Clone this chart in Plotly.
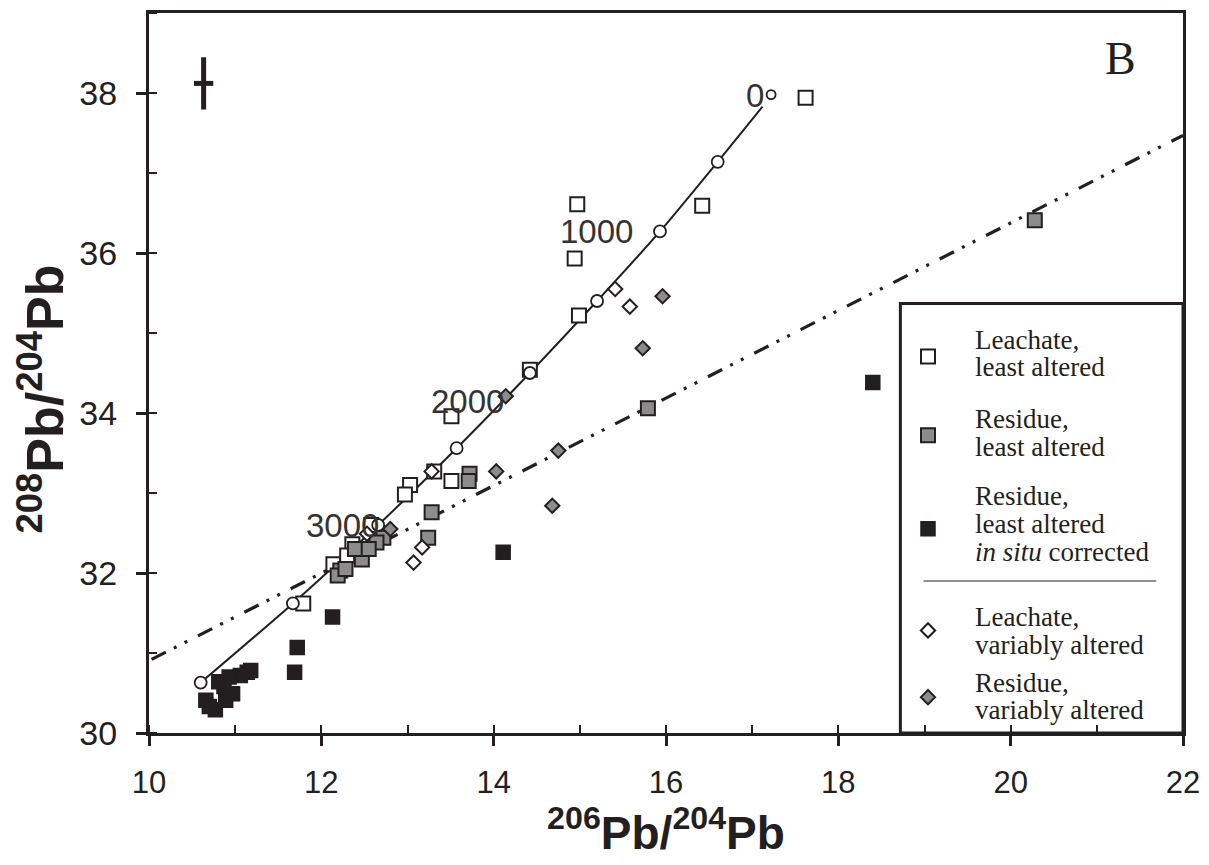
import plotly.graph_objects as go

INK = "#231f20"
GRAY = "#8c8c8c"

# ---- data ----
# Leachate, least altered (open squares)
leach_least_x = [17.62, 16.42, 14.97, 14.94, 14.99, 14.42, 13.51, 13.31, 13.51, 13.03, 12.97, 12.36, 12.58, 12.14, 11.79, 12.30]
leach_least_y = [37.94, 36.59, 36.61, 35.93, 35.22, 34.54, 33.96, 33.27, 33.15, 33.10, 32.98, 32.36, 32.60, 32.11, 31.62, 32.22]

# Residue, least altered (grey squares)
res_least_x = [20.28, 15.79, 13.72, 13.71, 13.28, 13.24, 12.72, 12.64, 12.47, 12.39, 12.22, 12.19, 12.28, 12.55]
res_least_y = [36.41, 34.06, 33.24, 33.15, 32.76, 32.44, 32.44, 32.38, 32.17, 32.30, 32.03, 31.97, 32.05, 32.30]

# Residue, least altered, in situ corrected (black squares)
insitu_x = [18.40, 14.11, 12.13, 11.72, 11.69, 11.18, 11.14, 11.06, 10.93, 10.87, 10.81, 10.97, 10.89, 10.70, 10.66, 10.77]
insitu_y = [34.38, 32.26, 31.45, 31.07, 30.76, 30.78, 30.76, 30.72, 30.70, 30.58, 30.64, 30.49, 30.41, 30.33, 30.41, 30.29]

# Leachate, variably altered (open diamonds)
leach_var_x = [15.41, 15.58, 13.07, 13.17, 13.28, 12.53]
leach_var_y = [35.55, 35.33, 32.13, 32.32, 33.27, 32.49]

# Residue, variably altered (grey diamonds)
res_var_x = [15.96, 15.73, 14.14, 14.75, 14.03, 14.68, 12.80]
res_var_y = [35.46, 34.81, 34.21, 33.53, 33.27, 32.84, 32.55]

# Pb growth curve (solid line) and its age ticks (open circles)
model_x = [10.60, 11.67, 12.66, 13.57, 14.42, 15.20, 15.93, 16.60, 17.12]
model_y = [30.63, 31.62, 32.60, 33.56, 34.50, 35.40, 36.27, 37.14, 37.83]
tick_x = [10.60, 11.67, 12.66, 13.57, 14.42, 15.20, 15.93, 16.60]
tick_y = [30.63, 31.62, 32.60, 33.56, 34.50, 35.40, 36.27, 37.14]
present_x = [17.22]
present_y = [37.98]

# age labels (Ma)
age_text = ["0", "1000", "2000", "3000"]
age_x = [17.03, 15.19, 13.70, 12.25]
age_y = [37.97, 36.27, 34.14, 32.60]

# reference line (dash-dot-dot)
ref_x = [10.03, 22.0]
ref_y = [30.92, 37.47]

# typical 2-sigma error
err_x, err_y = [10.634], [38.12]
err_dx, err_dy = [0.112], [0.326]

# legend text lines
legend_lines = ["Leachate,", "least altered", "Residue,", "least altered", "Residue,", "least altered",
                "<i>in situ</i> corrected", "Leachate,", "variably altered", "Residue,", "variably altered"]
legend_line_y = [34.917, 34.581, 33.921, 33.573, 32.963, 32.614, 32.266, 31.444, 31.095, 30.622, 30.286]

fig = go.Figure()

fig.add_trace(go.Scatter(x=ref_x, y=ref_y, mode="lines", showlegend=False, hoverinfo="skip",
                         line=dict(color=INK, width=3.2, dash="16px,9px,3px,9px,3px,12px")))
fig.add_trace(go.Scatter(x=model_x, y=model_y, mode="lines", showlegend=False, hoverinfo="skip",
                         line=dict(color=INK, width=2, shape="spline", smoothing=0.6)))

sq = 14
fig.add_trace(go.Scatter(x=leach_least_x, y=leach_least_y, mode="markers", name=" ", legend="legend",
                         marker=dict(symbol="square", size=sq, color="white", line=dict(color=INK, width=2))))
fig.add_trace(go.Scatter(x=res_least_x, y=res_least_y, mode="markers", name=" ", legend="legend2",
                         marker=dict(symbol="square", size=sq, color=GRAY, line=dict(color=INK, width=2))))
fig.add_trace(go.Scatter(x=insitu_x, y=insitu_y, mode="markers", name=" ", legend="legend3",
                         marker=dict(symbol="square", size=sq, color=INK, line=dict(color=INK, width=1.5))))
fig.add_trace(go.Scatter(x=leach_var_x, y=leach_var_y, mode="markers", name=" ", legend="legend4",
                         marker=dict(symbol="diamond", size=11, color="white", line=dict(color=INK, width=2))))
fig.add_trace(go.Scatter(x=res_var_x, y=res_var_y, mode="markers", name=" ", legend="legend5",
                         marker=dict(symbol="diamond", size=11, color=GRAY, line=dict(color=INK, width=2))))

fig.add_trace(go.Scatter(x=tick_x, y=tick_y, mode="markers", showlegend=False, hoverinfo="skip",
                         marker=dict(symbol="circle", size=12, color="white", line=dict(color=INK, width=1.8))))
fig.add_trace(go.Scatter(x=present_x, y=present_y, mode="markers", showlegend=False, hoverinfo="skip",
                         marker=dict(symbol="circle", size=9, color="white", line=dict(color=INK, width=1.8))))

fig.add_trace(go.Scatter(x=err_x, y=err_y, mode="markers", showlegend=False, hoverinfo="skip",
                         marker=dict(size=1, color="rgba(0,0,0,0)"),
                         error_x=dict(type="data", array=err_dx, width=0, thickness=5, color=INK),
                         error_y=dict(type="data", array=err_dy, width=0, thickness=5, color=INK)))

# page pixel -> paper helpers (plot area spans page x 149..1183, y 10..733)
PW, PH = 1034, 723
def px_to_paper_x(px):
    return (px - 149) / PW
def px_to_paper_y(py):
    return (733 - py) / PH

annotations = []
for t, x, y in zip(age_text, age_x, age_y):
    annotations.append(dict(x=x, y=y, text=t, showarrow=False, xanchor="center", yanchor="middle",
                            font=dict(family="Liberation Sans", size=33, color="#333333")))
for t, y in zip(legend_lines, legend_line_y):
    annotations.append(dict(x=19.56, y=y, text=t, showarrow=False, xanchor="left", yanchor="middle",
                            font=dict(family="Liberation Serif", size=27, color=INK)))
annotations.append(dict(x=21.27, y=38.43, text="B", showarrow=False, xanchor="center", yanchor="middle",
                        font=dict(family="Liberation Serif", size=46, color=INK)))
# y-axis title (placed as rotated text, slightly below the plot centre as in the reference)
annotations.append(dict(xref="paper", yref="paper", x=px_to_paper_x(42), y=px_to_paper_y(398),
                        text="<b><sup>208</sup>Pb/<sup>204</sup>Pb</b>", textangle=-90, showarrow=False,
                        xanchor="center", yanchor="middle",
                        font=dict(family="Liberation Sans", size=52, color=INK)))

shapes = [
    dict(type="rect", xref="x", yref="y", x0=18.72, x1=22.0, y0=30.0, y1=35.37,
         line=dict(color=INK, width=3), fillcolor="white", layer="below"),
    dict(type="line", xref="x", yref="y", x0=18.99, x1=21.69, y0=31.90, y1=31.90,
         line=dict(color=INK, width=1)),
]

leg_common = dict(xanchor="left", yanchor="middle", bgcolor="rgba(0,0,0,0)", borderwidth=0,
                  font=dict(family="Liberation Serif", size=1, color=INK), itemwidth=30)
marker_py = [355, 434, 528, 630, 697]
legends = {}
for i, py in enumerate(marker_py):
    key = "legend" if i == 0 else f"legend{i+1}"
    legends[key] = dict(leg_common, x=px_to_paper_x(908), y=px_to_paper_y(py))

xtickfont = dict(family="Liberation Sans", size=31, color=INK)
ytickfont = dict(family="Liberation Sans", size=34, color=INK)

# the page body adds an 8px offset, so the figure is 8px smaller and margins shifted
fig.update_layout(
    width=1201, height=857,
    margin=dict(l=141, r=26, t=2, b=132),
    paper_bgcolor="white", plot_bgcolor="white",
    annotations=annotations, shapes=shapes,
    xaxis=dict(range=[10, 22], tick0=10, dtick=2, showgrid=False, zeroline=False,
               showline=True, linewidth=3, linecolor=INK, mirror=True,
               ticks="outside", ticklen=10, tickwidth=2.5, tickcolor=INK,
               minor=dict(ticks="inside", ticklen=8, tickwidth=2, tickcolor=INK, dtick=1, showgrid=False),
               tickfont=xtickfont, ticklabelstandoff=10,
               title=dict(text="<b><sup>206</sup>Pb/<sup>204</sup>Pb</b>",
                          font=dict(family="Liberation Sans", size=46, color=INK), standoff=8)),
    xaxis2=dict(range=[10, 22], tick0=10, dtick=2, overlaying="x", anchor="y", side="bottom",
                showgrid=False, zeroline=False, showline=False, showticklabels=False,
                ticks="inside", ticklen=12, tickwidth=2.5, tickcolor=INK),
    yaxis=dict(range=[30, 39], tick0=30, dtick=2, showgrid=False, zeroline=False,
               showline=True, linewidth=3, linecolor=INK, mirror=True,
               ticks="outside", ticklen=10, tickwidth=2.5, tickcolor=INK,
               minor=dict(ticks="inside", ticklen=8, tickwidth=2, tickcolor=INK, dtick=1, showgrid=False),
               tickfont=ytickfont, ticklabelstandoff=12),
    yaxis2=dict(range=[30, 39], tick0=30, dtick=2, overlaying="y", anchor="x", side="left",
                showgrid=False, zeroline=False, showline=False, showticklabels=False,
                ticks="inside", ticklen=10, tickwidth=2.5, tickcolor=INK),
    **legends,
)

fig.write_html("out.html")
